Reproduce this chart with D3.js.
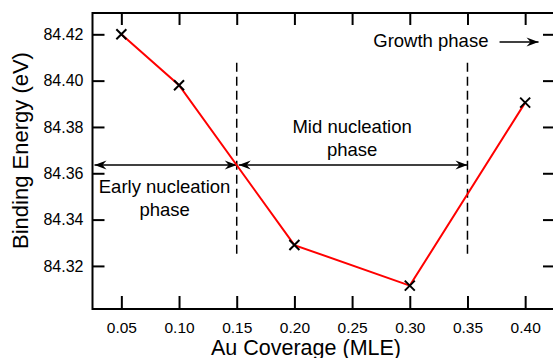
<!DOCTYPE html>
<html>
<head>
<meta charset="utf-8">
<script src="https://cdn.jsdelivr.net/npm/d3@7"></script>
<style>
  body { margin: 0; background: #fff; }
  svg { display: block; font-family: "Liberation Sans", Arial, Helvetica, sans-serif; }
</style>
</head>
<body>
<svg class="chart"></svg>
<script>
// Data
const coverage = [0.05, 0.10, 0.20, 0.30, 0.40];
const bindingEnergy = [84.420, 84.398, 84.329, 84.3115, 84.3905];
const xTicks = [0.05, 0.10, 0.15, 0.20, 0.25, 0.30, 0.35, 0.40];
const yTicks = [84.32, 84.34, 84.36, 84.38, 84.40, 84.42];
const phaseBounds = [0.15, 0.35];           // dashed boundaries
const phaseArrowY = 84.3636;                 // level of the double arrows
const dashRange = [84.3247, 84.4077];        // vertical extent of dashed lines
const growthArrow = { x1: 0.3778, x2: 0.4116, y: 84.4167, textEnd: 0.3682 };

const svgWidth = 553;
const svgHeight = 358;
const margin = { top: 13, right: -1, bottom: 49, left: 92.5 };

const svg = d3.select('.chart')
  .attr('width', svgWidth)
  .attr('height', svgHeight);

const xScale = d3.scaleLinear()
  .domain([0.025, 0.425])
  .range([margin.left, svgWidth - margin.right]);

const yScale = d3.scaleLinear()
  .domain([84.3014, 84.4292])
  .range([svgHeight - margin.bottom, margin.top]);

// arrowhead marker
const defs = svg.append('defs');
defs.append('marker')
  .attr('id', 'head')
  .attr('viewBox', '-13 -5 14 10')
  .attr('refX', 0)
  .attr('refY', 0)
  .attr('markerWidth', 14)
  .attr('markerHeight', 10)
  .attr('markerUnits', 'userSpaceOnUse')
  .attr('orient', 'auto-start-reverse')
  .append('path')
  .attr('d', 'M0,0 L-12,-4.5 L-8,0 L-12,4.5 Z')
  .attr('fill', 'black');

// axes (ticks point inward)
const styleAxis = g => {
  g.select('.domain').remove();
  g.selectAll('line').attr('stroke', 'black').attr('stroke-width', 2);
  g.selectAll('text').attr('fill', 'black');
};

svg.append('g')
  .attr('transform', `translate(0,${yScale.range()[0]})`)
  .call(d3.axisBottom(xScale).tickValues(xTicks).tickFormat(d3.format('.2f'))
    .tickSizeInner(-13).tickSizeOuter(0).tickPadding(13))
  .call(styleAxis)
  .selectAll('text').attr('font-size', '15.5px').attr('font-family', null);

svg.append('g')
  .attr('transform', `translate(0,${yScale.range()[1]})`)
  .call(d3.axisTop(xScale).tickValues(xTicks).tickFormat('')
    .tickSizeInner(-12).tickSizeOuter(0))
  .call(styleAxis);

svg.append('g')
  .attr('transform', `translate(${xScale.range()[0]},0)`)
  .call(d3.axisLeft(yScale).tickValues(yTicks).tickFormat(d3.format('.2f'))
    .tickSizeInner(-12).tickSizeOuter(0).tickPadding(9))
  .call(styleAxis)
  .selectAll('text').attr('font-size', '16px').attr('font-family', null);

svg.append('g')
  .attr('transform', `translate(${xScale.range()[1]},0)`)
  .call(d3.axisRight(yScale).tickValues(yTicks).tickFormat('')
    .tickSizeInner(-11).tickSizeOuter(0))
  .call(styleAxis);

// frame
svg.append('rect')
  .attr('x', xScale.range()[0])
  .attr('y', yScale.range()[1])
  .attr('width', xScale.range()[1] - xScale.range()[0])
  .attr('height', yScale.range()[0] - yScale.range()[1])
  .attr('fill', 'none')
  .attr('stroke', 'black')
  .attr('stroke-width', 2);

// axis titles
svg.append('text')
  .attr('x', 306)
  .attr('y', 355)
  .attr('text-anchor', 'middle')
  .attr('font-size', '21.5px')
  .text('Au Coverage (MLE)');

svg.append('text')
  .attr('transform', 'translate(28,150.5) rotate(-90)')
  .attr('text-anchor', 'middle')
  .attr('font-size', '22px')
  .text('Binding Energy (eV)');

// dashed phase boundaries
svg.selectAll('line.bound')
  .data(phaseBounds)
  .enter()
  .append('line')
  .attr('class', 'bound')
  .attr('x1', d => xScale(d))
  .attr('x2', d => xScale(d))
  .attr('y1', yScale(dashRange[1]))
  .attr('y2', yScale(dashRange[0]))
  .attr('stroke', 'black')
  .attr('stroke-width', 1.5)
  .attr('stroke-dasharray', '9 5');

// double arrows
const ay = yScale(phaseArrowY);
const spans = [[xScale.domain()[0], phaseBounds[0]], [phaseBounds[0], phaseBounds[1]]];
svg.selectAll('line.span')
  .data(spans)
  .enter()
  .append('line')
  .attr('class', 'span')
  .attr('x1', d => xScale(d[0]) + 2)
  .attr('x2', d => xScale(d[1]))
  .attr('y1', ay)
  .attr('y2', ay)
  .attr('stroke', 'black')
  .attr('stroke-width', 1.5)
  .attr('marker-start', 'url(#head)')
  .attr('marker-end', 'url(#head)');

// growth arrow
svg.append('line')
  .attr('x1', xScale(growthArrow.x1))
  .attr('x2', xScale(growthArrow.x2))
  .attr('y1', yScale(growthArrow.y))
  .attr('y2', yScale(growthArrow.y))
  .attr('stroke', 'black')
  .attr('stroke-width', 1.5)
  .attr('marker-end', 'url(#head)');

// phase labels
const labelSize = '18.5px';
const phaseLabels = [
  { x: (xScale.domain()[0] + phaseBounds[0]) / 2, dy: 28, lines: ['Early nucleation', 'phase'] },
  { x: (phaseBounds[0] + phaseBounds[1]) / 2, dy: -32, lines: ['Mid nucleation', 'phase'] }
];
phaseLabels.forEach(p => {
  p.lines.forEach((t, i) => {
    svg.append('text')
      .attr('x', xScale(p.x))
      .attr('y', ay + p.dy + i * 23)
      .attr('text-anchor', 'middle')
      .attr('font-size', labelSize)
      .text(t);
  });
});

svg.append('text')
  .attr('x', xScale(growthArrow.textEnd))
  .attr('y', yScale(growthArrow.y) + 5)
  .attr('text-anchor', 'end')
  .attr('font-size', labelSize)
  .text('Growth phase');

// data line
const line = d3.line()
  .x((d, i) => xScale(coverage[i]))
  .y(d => yScale(d));

svg.append('path')
  .datum(bindingEnergy)
  .attr('fill', 'none')
  .attr('stroke', 'red')
  .attr('stroke-width', 2)
  .attr('d', line);

// x markers
const s = 5;
svg.selectAll('path.mark')
  .data(bindingEnergy)
  .enter()
  .append('path')
  .attr('class', 'mark')
  .attr('transform', (d, i) => `translate(${xScale(coverage[i])},${yScale(d)})`)
  .attr('d', `M${-s},${-s}L${s},${s}M${-s},${s}L${s},${-s}`)
  .attr('stroke', 'black')
  .attr('stroke-width', 2);
</script>
</body>
</html>
